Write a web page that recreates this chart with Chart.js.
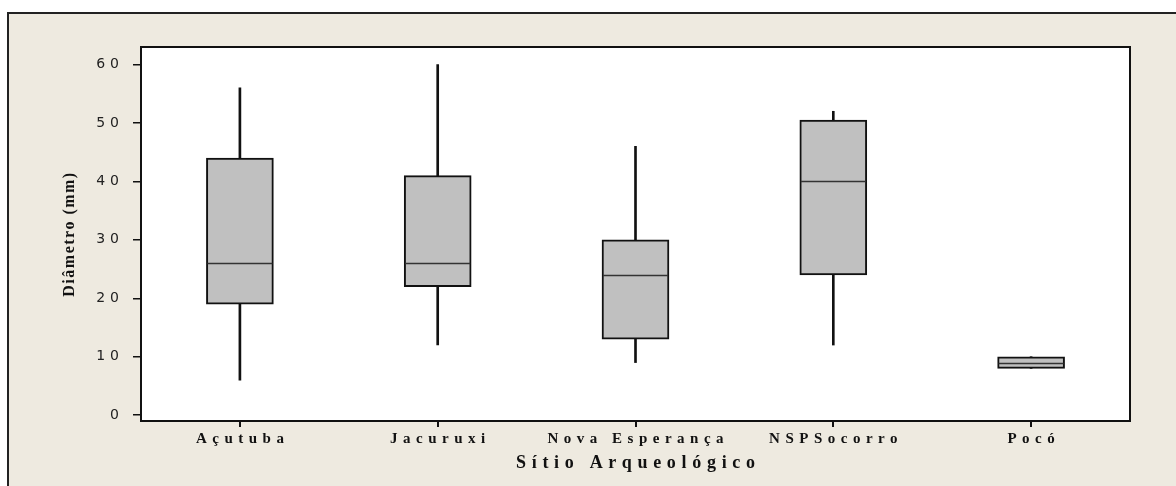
<!DOCTYPE html>
<html>
<head>
<meta charset="utf-8">
<script src="https://cdn.jsdelivr.net/npm/chart.js@4"></script>
<style>
  html, body { margin: 0; padding: 0; background: #fff; overflow: hidden; }
  #frame {
    position: absolute; left: 7px; top: 12px; width: 1200px; height: 500px;
    background: #EEEAE0; border-left: 2px solid #222; border-top: 2px solid #222;
  }
  #chart { position: absolute; left: 0; top: 0; }
</style>
</head>
<body>
<div id="frame"></div>
<canvas id="chart" width="1176" height="486"></canvas>
<script>
// Data
const sites = ["Açutuba", "Jacuruxi", "Nova Esperança", "NSPSocorro", "Pocó"];
const whiskerLow = [6, 12, 9, 12, 8];
const q1 = [19, 22, 13, 24, 8];
const medians = [26, 26, 24, 40, 9];
const q3 = [44, 41, 30, 50.5, 10];
const whiskerHigh = [56, 60, 46, 52, 10];
const yTicks = [0, 10, 20, 30, 40, 50, 60];

const boxWidth = 67;

// letter spacing per scale (the original uses spaced-out text)
const letterSpacing = {
    x: { labels: 5.5, labelsDx: 2.75, title: 5.7, titleDx: 2.85 },
    y: { labels: 5, labelsDx: 5, title: 1.5, titleDx: 0 }
};

const spacingPlugin = {
    id: "spacing",
    afterUpdate(chart) {
        for (const id of Object.keys(letterSpacing)) {
            const scale = chart.scales[id];
            const sp = letterSpacing[id];
            if (!scale || scale._spaced) continue;
            scale._spaced = true;
            const wrap = (fn, val, dx) => function (...args) {
                const c = this.ctx;
                c.save();
                c.letterSpacing = val + "px";
                c.translate(dx, 0);
                fn.apply(this, args);
                c.restore();
            };
            scale.drawLabels = wrap(scale.drawLabels, sp.labels, sp.labelsDx);
            scale.drawTitle = wrap(scale.drawTitle, sp.title, sp.titleDx);
        }
    }
};

const plotFrame = {
    id: "plotFrame",
    beforeDraw(chart) {
        const { ctx, chartArea: a } = chart;
        ctx.save();
        ctx.fillStyle = "#ffffff";
        ctx.fillRect(a.left, a.top, a.right - a.left, a.bottom - a.top);
        ctx.restore();
    },
    afterDraw(chart) {
        const { ctx, chartArea: a } = chart;
        ctx.save();
        ctx.strokeStyle = "#111";
        ctx.lineWidth = 2;
        ctx.strokeRect(a.left, a.top, a.right - a.left, a.bottom - a.top);
        ctx.restore();
    }
};

// median line across each box
const medianLines = {
    id: "medianLines",
    afterDatasetsDraw(chart) {
        const { ctx, scales: { x, y } } = chart;
        ctx.save();
        ctx.strokeStyle = "#333";
        ctx.lineWidth = 1.5;
        medians.forEach((m, i) => {
            const px = x.getPixelForValue(i);
            const py = Math.round(y.getPixelForValue(m)) + 0.5;
            ctx.beginPath();
            ctx.moveTo(px - boxWidth / 2 + 1, py);
            ctx.lineTo(px + boxWidth / 2 - 1, py);
            ctx.stroke();
        });
        ctx.restore();
    }
};

const ctx = document.getElementById("chart");

new Chart(ctx, {
    type: "bar",
    data: {
        labels: sites,
        datasets: [
            {
                label: "box",
                data: sites.map((s, i) => [q1[i], q3[i]]),
                backgroundColor: "#C0C0C0",
                borderColor: "#111",
                borderWidth: 2,
                borderSkipped: false,
                barThickness: boxWidth,
                grouped: false
            },
            {
                label: "whisker",
                data: sites.map((s, i) => [whiskerLow[i], whiskerHigh[i]]),
                backgroundColor: "#111",
                borderWidth: 0,
                barThickness: 2,
                grouped: false
            }
        ]
    },
    options: {
        responsive: false,
        animation: false,
        devicePixelRatio: 1,
        layout: { padding: { top: 47, right: 46, left: 0, bottom: 0 } },
        plugins: {
            legend: { display: false },
            tooltip: { enabled: false }
        },
        scales: {
            x: {
                offset: true,
                grid: {
                    offset: false,
                    drawOnChartArea: false,
                    drawTicks: true,
                    tickLength: 6,
                    color: "#111",
                    lineWidth: 2
                },
                border: { display: false },
                ticks: {
                    padding: 3,
                    color: "#111",
                    font: { family: "Liberation Serif", size: 15, weight: "bold" }
                },
                title: {
                    display: true,
                    text: "Sítio Arqueológico",
                    color: "#111",
                    font: { family: "Liberation Serif", size: 18, weight: "bold" },
                    padding: { top: 4, bottom: 12 }
                },
                afterFit(scale) { scale.height = 65; }
            },
            y: {
                min: -1,
                max: 63,
                afterBuildTicks(scale) {
                    scale.ticks = yTicks.map(v => ({ value: v }));
                },
                grid: {
                    drawOnChartArea: false,
                    drawTicks: true,
                    tickLength: 8,
                    color: "#111",
                    lineWidth: 1.5
                },
                border: { display: false },
                ticks: {
                    padding: 14,
                    color: "#222",
                    font: { family: "DejaVu Sans", size: 14 }
                },
                title: {
                    display: true,
                    text: "Diâmetro (mm)",
                    color: "#111",
                    font: { family: "Liberation Serif", size: 16, weight: "bold" },
                    padding: { top: 60, bottom: 0 }
                },
                afterFit(scale) { scale.width = 141; }
            }
        }
    },
    plugins: [spacingPlugin, plotFrame, medianLines]
});
</script>
</body>
</html>
